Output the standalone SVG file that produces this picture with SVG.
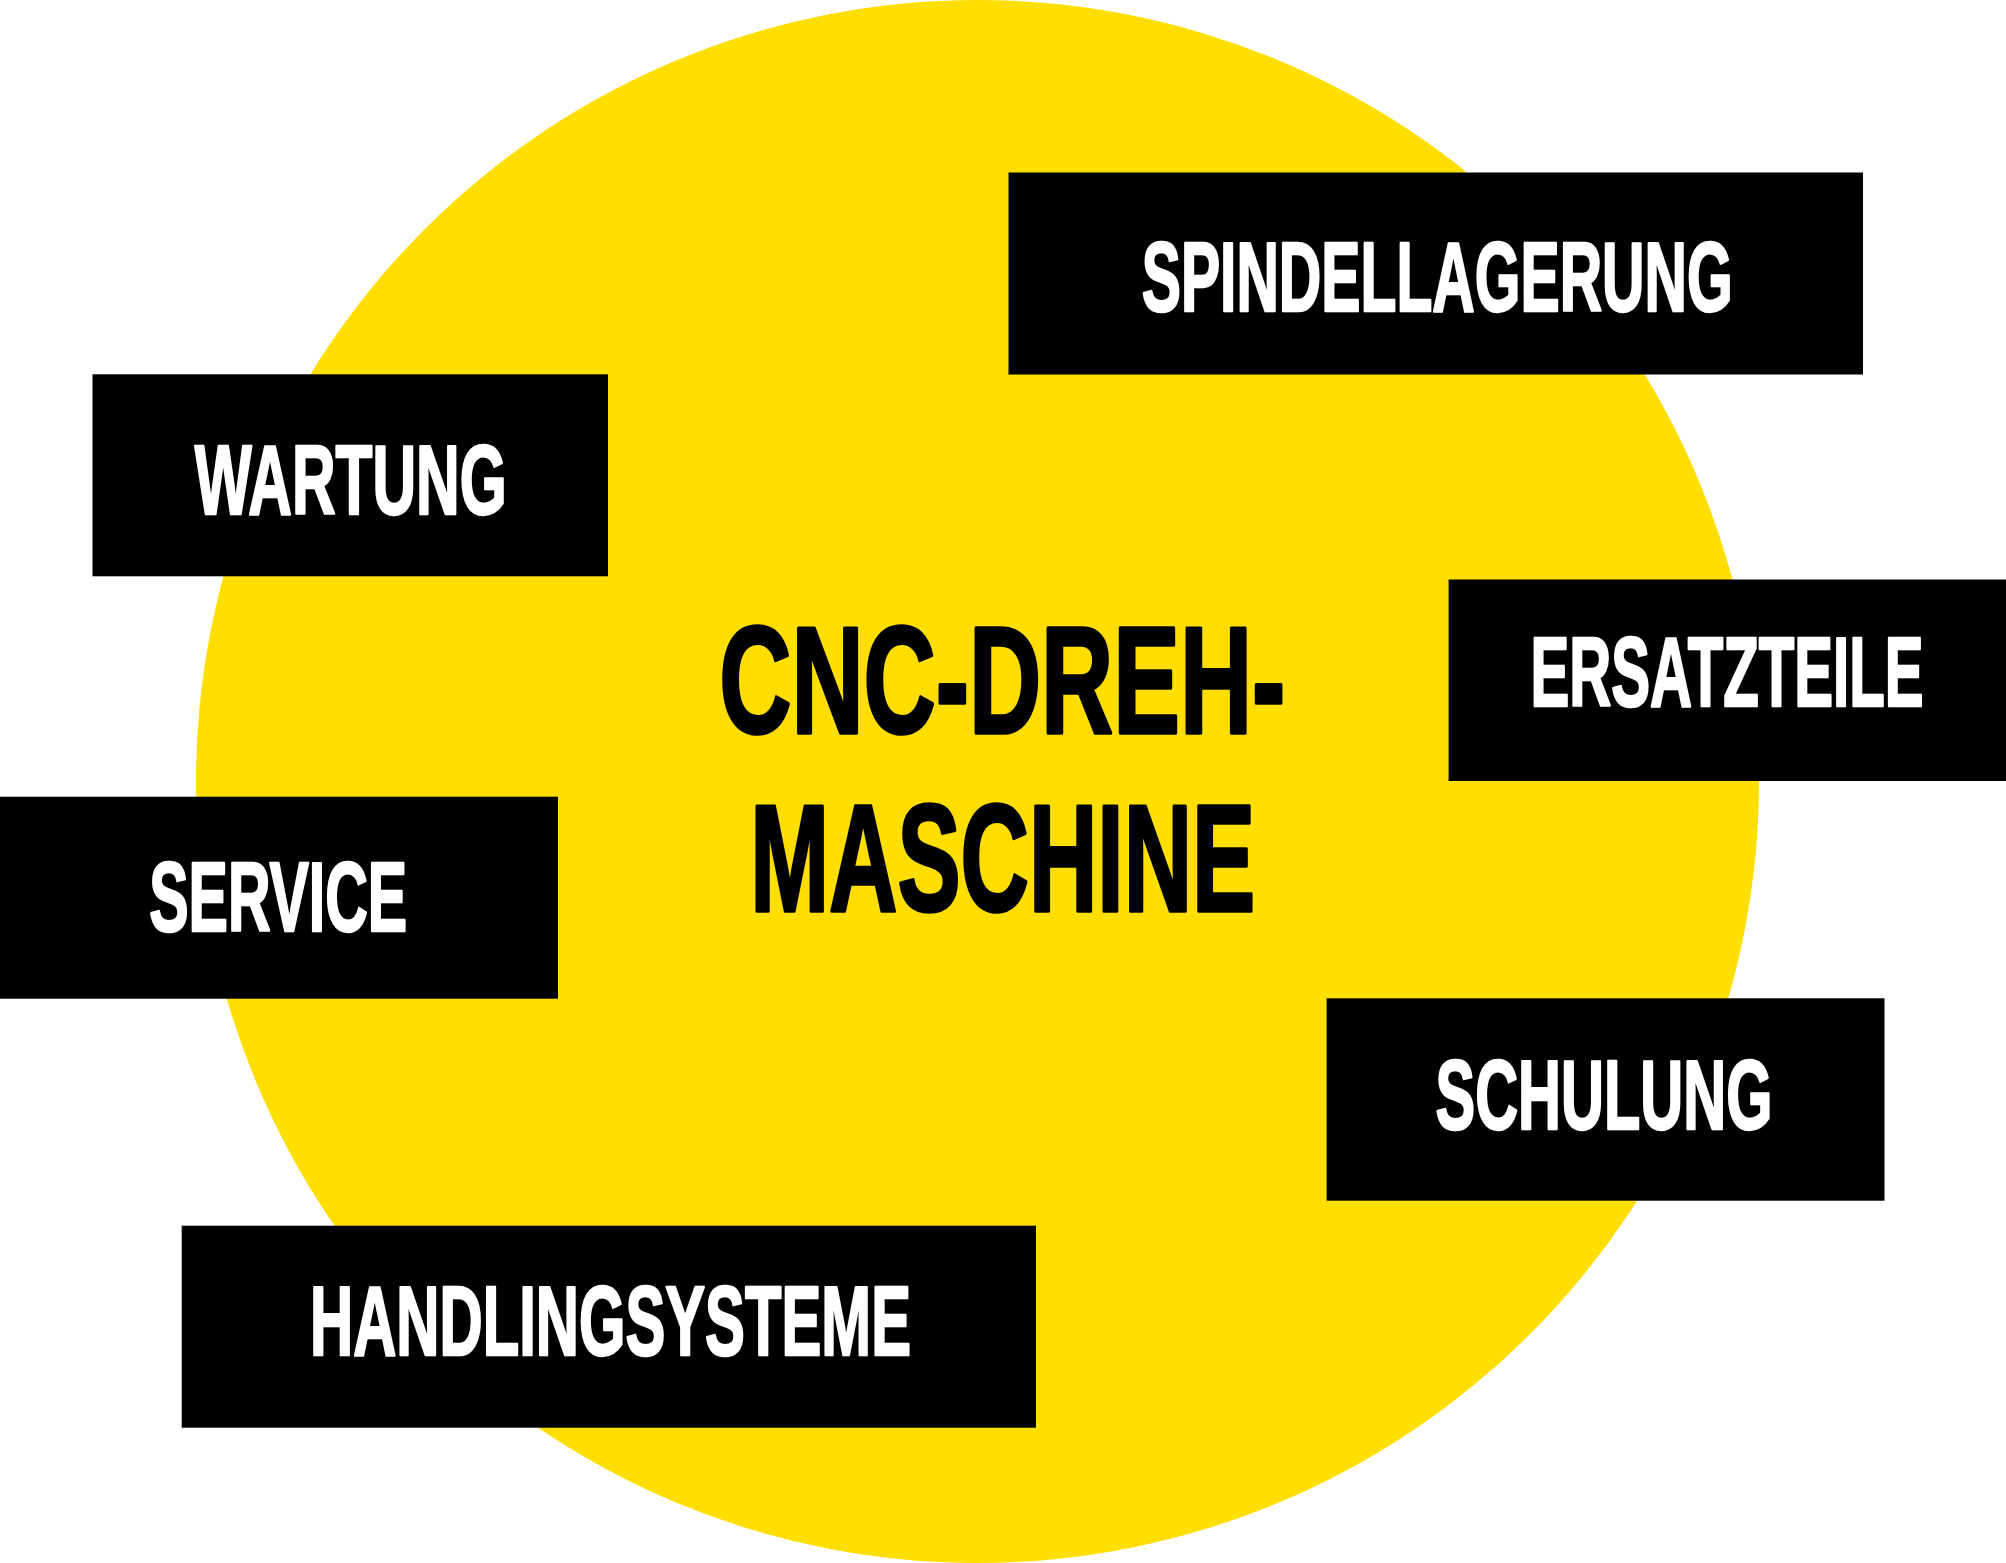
<svg xmlns="http://www.w3.org/2000/svg" width="2006" height="1563" viewBox="0 0 2006 1563">
  <style>
    .box { fill: #000000; }
    .lbl { fill: #FFFFFF; stroke: #FFFFFF; stroke-width: 2.5; stroke-linejoin: round; font-family: "Liberation Sans Narrow", "Liberation Sans", "DejaVu Sans Condensed", sans-serif; font-weight: bold; font-size: 98px; text-anchor: middle; }
    .title { fill: #000000; stroke: #000000; stroke-width: 3.5; stroke-linejoin: round; font-family: "Liberation Sans Narrow", "Liberation Sans", "DejaVu Sans Condensed", sans-serif; font-weight: bold; font-size: 153px; text-anchor: middle; }
  </style>
  <rect x="0" y="0" width="2006" height="1563" fill="#FFFFFF"/>
  <g id="background">
    <circle cx="977.5" cy="781.5" r="781.5" fill="#FFDE00"/>
  </g>
  <g id="center">
    <text class="title" x="1002.3" y="732.5" textLength="566" lengthAdjust="spacingAndGlyphs">CNC-DREH-</text>
    <text class="title" x="1002.7" y="911" textLength="505" lengthAdjust="spacingAndGlyphs">MASCHINE</text>
  </g>
  <g id="connectors"></g>
  <g id="spindellagerung">
    <rect class="box" x="1008.5" y="172.5" width="854.5" height="202"/>
    <text class="lbl" x="1437.2" y="311.3" textLength="591" lengthAdjust="spacingAndGlyphs">SPINDELLAGERUNG</text>
  </g>
  <g id="wartung">
    <rect class="box" x="92.5" y="374.3" width="515.5" height="202"/>
    <text class="lbl" x="350.7" y="513.8" textLength="312" lengthAdjust="spacingAndGlyphs">WARTUNG</text>
  </g>
  <g id="ersatzteile">
    <rect class="box" x="1448.6" y="579.5" width="557.4" height="201.5"/>
    <text class="lbl" x="1727" y="705.5" textLength="393" lengthAdjust="spacingAndGlyphs">ERSATZTEILE</text>
  </g>
  <g id="service">
    <rect class="box" x="0" y="796.7" width="558" height="202"/>
    <text class="lbl" x="278.2" y="930.5" textLength="258" lengthAdjust="spacingAndGlyphs">SERVICE</text>
  </g>
  <g id="schulung">
    <rect class="box" x="1326.6" y="998.3" width="557.9" height="202.4"/>
    <text class="lbl" x="1604" y="1128.5" textLength="337" lengthAdjust="spacingAndGlyphs">SCHULUNG</text>
  </g>
  <g id="handlingsysteme">
    <rect class="box" x="181.7" y="1225.7" width="854.3" height="202"/>
    <text class="lbl" x="610.5" y="1354.8" textLength="601" lengthAdjust="spacingAndGlyphs">HANDLINGSYSTEME</text>
  </g>
</svg>
